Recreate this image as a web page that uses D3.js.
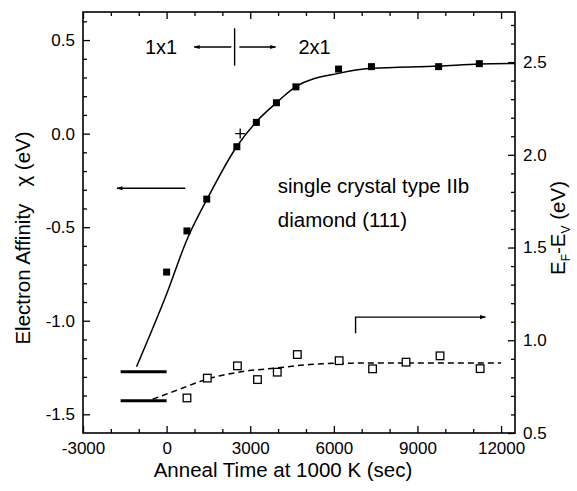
<!DOCTYPE html>
<html>
<head>
<meta charset="utf-8">
<script src="https://cdn.jsdelivr.net/npm/d3@7"></script>
<style>
  body { margin: 0; background: #fff; }
  text { font-family: "Liberation Sans", Arial, Helvetica, sans-serif; fill: #000; }
</style>
</head>
<body>
<div class="canvas"></div>
<script>
// tick values
const xTicks = [-3000, 0, 3000, 6000, 9000, 12000];
const xMinor = [-2000, -1000, 1000, 2000, 4000, 5000, 7000, 8000, 10000, 11000];
const leftTicks = [-1.5, -1.0, -0.5, 0.0, 0.5];
const leftMinor = [-1.4, -1.3, -1.2, -1.1, -0.9, -0.8, -0.7, -0.6, -0.4, -0.3, -0.2, -0.1, 0.1, 0.2, 0.3, 0.4, 0.6];
const rightTicks = [0.5, 1.0, 1.5, 2.0, 2.5];
const rightMinor = [0.6, 0.7, 0.8, 0.9, 1.1, 1.2, 1.3, 1.4, 1.6, 1.7, 1.8, 1.9, 2.1, 2.2, 2.3, 2.4, 2.6, 2.7];

// electron affinity (filled squares, left axis)
const affinityTime = [0, 730, 1440, 2520, 3220, 3940, 4640, 6170, 7350, 9760, 11220];
const affinity = [-0.74, -0.52, -0.35, -0.07, 0.06, 0.165, 0.25, 0.345, 0.358, 0.358, 0.374];

// EF - EV (open squares, right axis)
const fermiTime = [730, 1460, 2540, 3260, 3970, 4690, 6190, 7390, 8590, 9810, 11250];
const fermi = [0.689, 0.796, 0.862, 0.788, 0.828, 0.923, 0.890, 0.846, 0.882, 0.916, 0.847];

// fitted curves
const fitAffinityTime = [-1080, 0, 740, 1460, 2530, 3220, 3940, 4640, 6165, 7350, 9760, 11220, 12500];
const fitAffinity = [-1.246, -0.857, -0.563, -0.348, -0.066, 0.064, 0.165, 0.251, 0.322, 0.349, 0.361, 0.372, 0.375];
const fitFermiTime = [-500, 460, 1460, 2540, 3970, 5130, 6190, 8590, 12000];
const fitFermi = [0.682, 0.736, 0.791, 0.827, 0.851, 0.869, 0.876, 0.878, 0.878];

// initial levels (short thick bars)
const barTime = [-1650, 0];
const affinityStart = -1.272;
const fermiStart = 0.674;

// crossing marker
const crossPoint = [2640, 0.0];

const dims = { width: 432, height: 421 };
const margin = { left: 83, top: 12 };

const svg = d3
  .select('.canvas')
  .append('svg')
  .attr('width', 577)
  .attr('height', 491);

svg.append('defs')
  .append('marker')
  .attr('id', 'head')
  .attr('viewBox', '0 0 10 10')
  .attr('refX', 9)
  .attr('refY', 5)
  .attr('markerWidth', 9)
  .attr('markerHeight', 6)
  .attr('markerUnits', 'userSpaceOnUse')
  .attr('orient', 'auto')
  .append('path')
  .attr('d', 'M0,1.5 L10,5 L0,8.5 Z')
  .attr('fill', '#000');

const graph = svg
  .append('g')
  .attr('transform', `translate(${margin.left}, ${margin.top})`);

const x = d3.scaleLinear().domain([-3000, 12500]).range([0, dims.width]);
const yLeft = d3.scaleLinear().domain([-1.6, 0.65]).range([dims.height, 0]);
const yRight = d3.scaleLinear().domain([0.5, 2.77]).range([dims.height, 0]);

const styleAxis = g => {
  g.selectAll('.domain').remove();
  g.selectAll('line').attr('stroke', '#000').attr('stroke-width', 1.3);
  g.selectAll('text').attr('font-size', 17);
};

// bottom + top
graph.append('g')
  .attr('transform', `translate(0, ${dims.height})`)
  .call(d3.axisBottom(x).tickValues(xTicks).tickSizeInner(-7).tickSizeOuter(0).tickPadding(9).tickFormat(d => String(d)))
  .call(styleAxis);
graph.append('g')
  .attr('transform', `translate(0, ${dims.height})`)
  .call(d3.axisBottom(x).tickValues(xMinor).tickSize(-4).tickFormat(''))
  .call(styleAxis);
graph.append('g')
  .call(d3.axisTop(x).tickValues(xTicks).tickSize(-7).tickFormat(''))
  .call(styleAxis);
graph.append('g')
  .call(d3.axisTop(x).tickValues(xMinor).tickSize(-4).tickFormat(''))
  .call(styleAxis);

// left
graph.append('g')
  .call(d3.axisLeft(yLeft).tickValues(leftTicks).tickSizeInner(-7).tickSizeOuter(0).tickPadding(8).tickFormat(d => d.toFixed(1)))
  .call(styleAxis);
graph.append('g')
  .call(d3.axisLeft(yLeft).tickValues(leftMinor).tickSize(-4).tickFormat(''))
  .call(styleAxis);

// right
graph.append('g')
  .attr('transform', `translate(${dims.width}, 0)`)
  .call(d3.axisRight(yRight).tickValues(rightTicks).tickSizeInner(-7).tickSizeOuter(0).tickPadding(8).tickFormat(d => d.toFixed(1)))
  .call(styleAxis);
graph.append('g')
  .attr('transform', `translate(${dims.width}, 0)`)
  .call(d3.axisRight(yRight).tickValues(rightMinor).tickSize(-4).tickFormat(''))
  .call(styleAxis);

// frame
graph.append('rect')
  .attr('width', dims.width)
  .attr('height', dims.height)
  .attr('fill', 'none')
  .attr('stroke', '#000')
  .attr('stroke-width', 1.6);

// fit lines
const affinityLine = d3.line()
  .x(d => x(d[0]))
  .y(d => yLeft(d[1]))
  .curve(d3.curveMonotoneX);
const fermiLine = d3.line()
  .x(d => x(d[0]))
  .y(d => yRight(d[1]))
  .curve(d3.curveMonotoneX);

graph.append('path')
  .attr('d', affinityLine(d3.zip(fitAffinityTime, fitAffinity)))
  .attr('fill', 'none')
  .attr('stroke', '#000')
  .attr('stroke-width', 1.5);

graph.append('path')
  .attr('d', fermiLine(d3.zip(fitFermiTime, fitFermi)))
  .attr('fill', 'none')
  .attr('stroke', '#000')
  .attr('stroke-width', 1.5)
  .attr('stroke-dasharray', '6,4');

// starting levels
graph.append('line')
  .attr('x1', x(barTime[0])).attr('x2', x(barTime[1]))
  .attr('y1', yLeft(affinityStart)).attr('y2', yLeft(affinityStart))
  .attr('stroke', '#000').attr('stroke-width', 3);
graph.append('line')
  .attr('x1', x(barTime[0])).attr('x2', x(barTime[1]))
  .attr('y1', yRight(fermiStart)).attr('y2', yRight(fermiStart))
  .attr('stroke', '#000').attr('stroke-width', 3);

// points
const sq = 7;
graph.selectAll('rect.filled')
  .data(d3.zip(affinityTime, affinity))
  .enter()
  .append('rect')
  .attr('class', 'filled')
  .attr('x', d => x(d[0]) - sq / 2)
  .attr('y', d => yLeft(d[1]) - sq / 2)
  .attr('width', sq)
  .attr('height', sq)
  .attr('fill', '#000');

graph.selectAll('rect.open')
  .data(d3.zip(fermiTime, fermi))
  .enter()
  .append('rect')
  .attr('class', 'open')
  .attr('x', d => x(d[0]) - 3.8)
  .attr('y', d => yRight(d[1]) - 3.8)
  .attr('width', 7.6)
  .attr('height', 7.6)
  .attr('fill', '#fff')
  .attr('stroke', '#000')
  .attr('stroke-width', 1.3);

// cross marker
const cx = x(crossPoint[0]), cy = yLeft(crossPoint[1]);
graph.append('path')
  .attr('d', `M${cx - 5},${cy} H${cx + 5} M${cx},${cy - 5} V${cy + 5}`)
  .attr('stroke', '#000')
  .attr('stroke-width', 1.3);

// annotations
const arrow = (x1, y1, x2, y2) =>
  graph.append('line')
    .attr('x1', x1).attr('y1', y1).attr('x2', x2).attr('y2', y2)
    .attr('stroke', '#000').attr('stroke-width', 1.4)
    .attr('marker-end', 'url(#head)');

// 1x1 | 2x1
graph.append('text')
  .attr('x', x(-200)).attr('y', yLeft(0.463))
  .attr('dy', '0.35em')
  .attr('text-anchor', 'middle')
  .attr('font-size', 20)
  .text('1x1');
graph.append('text')
  .attr('x', x(5310)).attr('y', yLeft(0.463))
  .attr('dy', '0.35em')
  .attr('text-anchor', 'middle')
  .attr('font-size', 20)
  .text('2x1');
arrow(x(2320), yLeft(0.463), x(990), yLeft(0.463));
arrow(x(2610), yLeft(0.463), x(3910), yLeft(0.463));
graph.append('line')
  .attr('x1', x(2440)).attr('x2', x(2440))
  .attr('y1', yLeft(0.563)).attr('y2', yLeft(0.363))
  .attr('stroke', '#000').attr('stroke-width', 1.4);

// left-pointing arrow for chi
arrow(x(670), yLeft(-0.292), x(-1780), yLeft(-0.292));

// right-pointing bracket arrow for EF-EV
graph.append('path')
  .attr('d', `M${x(6780)},${yRight(1.038)} V${yRight(1.125)} H${x(11440)}`)
  .attr('fill', 'none')
  .attr('stroke', '#000')
  .attr('stroke-width', 1.4)
  .attr('marker-end', 'url(#head)');

// sample label
graph.append('text')
  .attr('x', x(3990)).attr('y', 181)
  .attr('font-size', 20.5)
  .text('single crystal type IIb');
graph.append('text')
  .attr('x', x(3990)).attr('y', 215)
  .attr('font-size', 20.5)
  .text('diamond (111)');

// axis titles
svg.append('text')
  .attr('x', margin.left + dims.width / 2 - 16)
  .attr('y', 477)
  .attr('text-anchor', 'middle')
  .attr('font-size', 20.5)
  .text('Anneal Time at 1000 K (sec)');

svg.append('text')
  .attr('transform', 'translate(30, 238) rotate(-90)')
  .attr('text-anchor', 'middle')
  .attr('font-size', 20.5)
  .style('white-space', 'pre')
  .text('Electron Affinity   χ (eV)');

const rightTitle = svg.append('text')
  .attr('transform', 'translate(565, 228) rotate(-90)')
  .attr('text-anchor', 'middle')
  .attr('font-size', 20.5);
rightTitle.append('tspan').text('E');
rightTitle.append('tspan').attr('font-size', 12).attr('dy', 5).text('F');
rightTitle.append('tspan').attr('dy', -5).text('-E');
rightTitle.append('tspan').attr('font-size', 12).attr('dy', 5).text('V');
rightTitle.append('tspan').attr('dy', -5).text(' (eV)');
</script>
</body>
</html>
